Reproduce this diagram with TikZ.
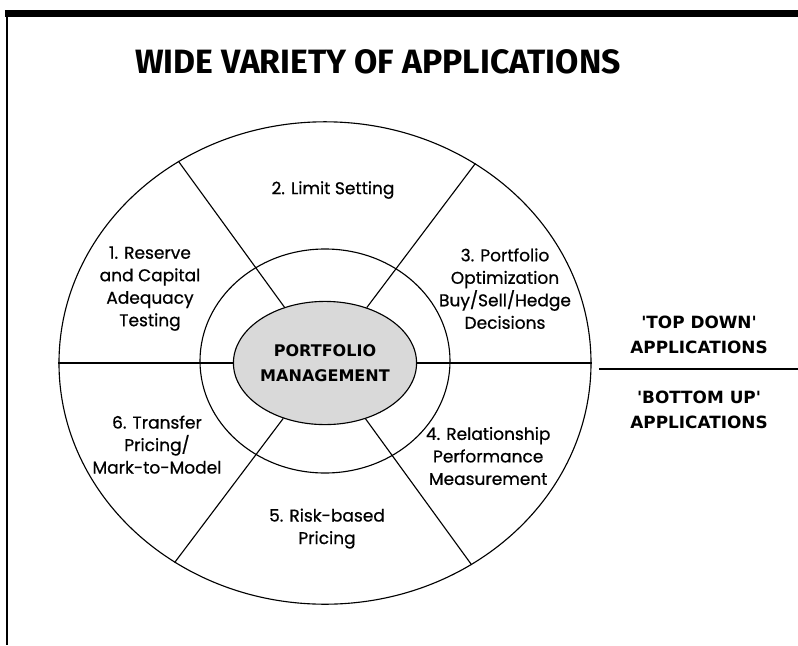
\documentclass[tikz,border=0pt]{standalone}
\usepackage{fontspec}
\setmainfont{Poppins}
\newfontfamily\sectorfont{Poppins}[FakeBold=0.7]
\newfontfamily\headfont{Fira Sans}
\newfontfamily\boldfont{DejaVu Sans}
\usetikzlibrary{shapes.geometric,positioning}

\begin{document}
\begin{tikzpicture}[
  ring/.style={ellipse, draw, line width=0.8pt, inner sep=0pt},
  sector/.style={align=center, font=\sectorfont\fontsize{12.1}{16}\selectfont},
  side/.style={align=center, font=\boldfont\bfseries\fontsize{12}{17.8}\selectfont},
  spoke/.style={line width=0.8pt}]
\useasboundingbox (-8.125,-7.05) rectangle (11.825,9.075);
% frame
\draw[line width=5pt] (-8.0,8.74) -- (11.825,8.74);
\draw[line width=1.1pt] (-7.95,8.74) -- (-7.95,-7.05);
\node[font=\headfont\bfseries\fontsize{24}{28}\selectfont] (title) at (1.325,7.525) {WIDE VARIETY OF APPLICATIONS};
% rings
\node[ring, minimum width=13.3cm, minimum height=12.06cm] (outer) at (0,0) {};
\node[ring, minimum width=6.25cm, minimum height=5.6cm] (inner) at (0,0.05) {};
\node[ring, fill=black!15, minimum width=3.6cm, minimum height=3.08cm, align=center,
  font=\boldfont\bfseries\fontsize{11.4}{17.8}\selectfont] (pm) at (0,0) {PORTFOLIO\\MANAGEMENT};
% spokes
\draw[spoke] (outer.west) -- (pm.west);
\draw[spoke] (pm.east) -- (outer.east);
\draw[spoke] (pm.126) -- (outer.126);
\draw[spoke] (pm.53) -- (outer.53);
\draw[spoke] (pm.-54) -- (outer.-54);
\draw[spoke] (pm.-127) -- (outer.-127);
% sectors
\node[sector] (limit) at (0.2,4.325) {2. Limit Setting};
\node[sector] (reserve) at (-4.375,1.86) {1. Reserve\\and Capital\\Adequacy\\Testing};
\node[sector] (optim) at (4.5,1.86) {3. Portfolio\\Optimization\\Buy/Sell/Hedge\\Decisions};
\node[sector] (transfer) at (-4.2,-2.04) {6. Transfer\\Pricing/\\Mark-to-Model};
\node[sector] (risk) at (0.05,-4.14) {5. Risk-based\\Pricing};
\node[sector] (relation) at (4.08,-2.325) {4. Relationship\\Performance\\Measurement};
% top down / bottom up
\node[side] (topdown) at (9.35,0.71) {'TOP DOWN'\\APPLICATIONS};
\node[side] (bottomup) at (9.35,-1.175) {'BOTTOM UP'\\APPLICATIONS};
\coordinate (sepl) at (6.85,-0.15);
\coordinate (sepr) at (11.825,-0.15);
\draw[spoke] (sepl) -- (sepr);
\end{tikzpicture}
\end{document}
